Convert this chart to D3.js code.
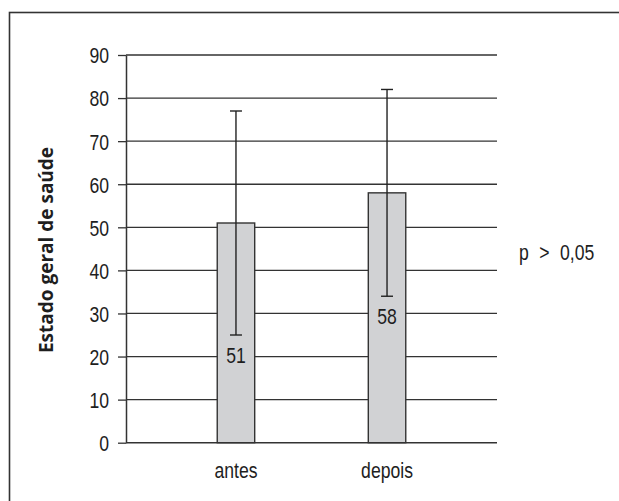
<!DOCTYPE html>
<html>
<head>
<meta charset="utf-8">
<script src="https://cdn.jsdelivr.net/npm/d3@7"></script>
<style>
  html, body { margin: 0; padding: 0; background: #fff; }
  svg { display: block; }
  .num { font-family: "Liberation Sans", Arial, sans-serif; font-size: 22px; fill: #1e1e1e; }
  .title { font-family: "Open Sans", "Noto Sans", sans-serif; font-weight: 700; font-size: 19px; fill: #1e1e1e; }
</style>
</head>
<body>
<script>
// Estado geral de saúde: means with error ranges, before and after
const categories = ["antes", "depois"];
const means = [51, 58];
const lower = [25, 34];
const upper = [77, 82];
const yTicks = [0, 10, 20, 30, 40, 50, 60, 70, 80, 90];
const note = "p > 0,05";

const W = 619, H = 501;
const SX = 0.8; // horizontal squeeze for a condensed look
const svg = d3.select("body").append("svg").attr("width", W).attr("height", H);

// places a condensed text item at (px, py)
function narrow(sel, px, py) {
  return sel.attr("x", 0).attr("y", 0)
    .attr("transform", (d, i) => `translate(${px(d, i)},${py(d, i)}) scale(${SX},1)`);
}

// frame
svg.append("rect")
  .attr("x", 9.5).attr("y", 12.5)
  .attr("width", W + 20).attr("height", H + 20)
  .attr("fill", "none").attr("stroke", "#333").attr("stroke-width", 1.6);

const x0 = 126, x1 = 497;
const y = d3.scaleLinear().domain([0, 90]).range([442.7, 55]);
const x = d3.scaleBand().domain(categories).range([x0, x1])
  .paddingInner(0.752).paddingOuter(0.604);

// gridlines
svg.append("g").selectAll("line").data(yTicks.filter(t => t > 0)).join("line")
  .attr("x1", x0).attr("x2", x1)
  .attr("y1", d => y(d)).attr("y2", d => y(d))
  .attr("stroke", "#333").attr("stroke-width", 1.3);

// y axis
const yAxis = d3.axisLeft(y).tickValues(yTicks).tickSize(8).tickPadding(9).tickSizeOuter(0);
const gy = svg.append("g").attr("transform", `translate(${x0},0)`).call(yAxis);
gy.select(".domain").attr("stroke", "#333").attr("stroke-width", 1.5);
gy.selectAll(".tick line").attr("stroke", "#333").attr("stroke-width", 1.3);
gy.selectAll(".tick text")
  .attr("class", "num").attr("font-size", null).attr("font-family", null)
  .attr("dy", "0.36em")
  .call(s => narrow(s, () => -17, () => 0));

// baseline
svg.append("line").attr("x1", x0).attr("x2", x1)
  .attr("y1", y(0)).attr("y2", y(0))
  .attr("stroke", "#333").attr("stroke-width", 1.5);

// bars
const rows = categories.map((c, i) => ({ c, m: means[i], lo: lower[i], hi: upper[i] }));
svg.append("g").selectAll("rect").data(rows).join("rect")
  .attr("x", d => x(d.c)).attr("width", x.bandwidth())
  .attr("y", d => y(d.m)).attr("height", d => y(0) - y(d.m))
  .attr("fill", "#d1d2d4").attr("stroke", "#333").attr("stroke-width", 1.4);

// error bars
const cap = 6;
const eb = svg.append("g").attr("stroke", "#222").attr("stroke-width", 1.4);
rows.forEach(d => {
  const cx = x(d.c) + x.bandwidth() / 2;
  eb.append("line").attr("x1", cx).attr("x2", cx).attr("y1", y(d.hi)).attr("y2", y(d.lo));
  eb.append("line").attr("x1", cx - cap).attr("x2", cx + cap).attr("y1", y(d.hi)).attr("y2", y(d.hi));
  eb.append("line").attr("x1", cx - cap).attr("x2", cx + cap).attr("y1", y(d.lo)).attr("y2", y(d.lo));
});

// value labels
svg.append("g").selectAll("text").data(rows).join("text")
  .attr("class", "num")
  .attr("text-anchor", "middle")
  .text(d => d.m)
  .call(s => narrow(s, d => x(d.c) + x.bandwidth() / 2, d => y(d.lo) + 28));

// category labels
svg.append("g").selectAll("text").data(categories).join("text")
  .attr("class", "num")
  .attr("text-anchor", "middle")
  .text(d => d)
  .call(s => narrow(s, d => x(d) + x.bandwidth() / 2, () => 478));

// y title
svg.append("text").attr("class", "title")
  .attr("transform", `translate(53,250) rotate(-90)`)
  .attr("text-anchor", "middle")
  .text("Estado geral de saúde");

// significance note
svg.append("text").attr("class", "num")
  .style("word-spacing", "7px")
  .text(note)
  .call(s => narrow(s, () => 519, () => 260));
</script>
</body>
</html>
